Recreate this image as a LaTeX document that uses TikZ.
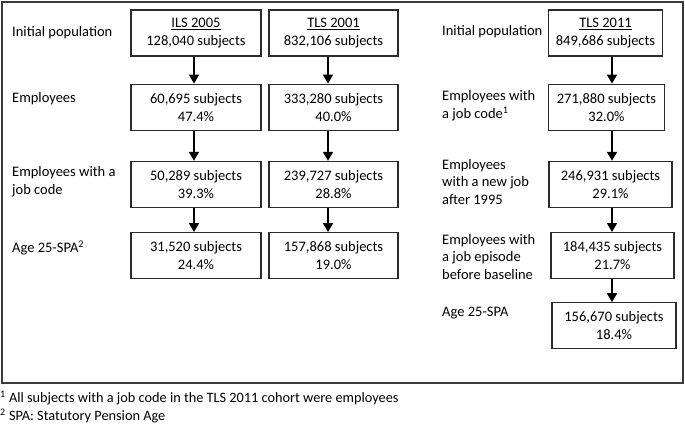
\documentclass[tikz,border=0pt]{standalone}
\usepackage{fontspec}
\setmainfont{Carlito}
\usetikzlibrary{arrows.meta,positioning}
\definecolor{FlowInk}{HTML}{2B2B2B}
\definecolor{FrameInk}{HTML}{3A3A3A}

\begin{document}
\begin{tikzpicture}[
    x=1pt, y=-1pt,
    font=\fontsize{14.5}{17.7}\selectfont,
    cohort/.style={
        rectangle,
        draw=FlowInk,
        line width=1.2pt,
        minimum width=130pt,
        minimum height=46pt,
        align=center,
        inner sep=0pt
    },
    flow/.style={
        -{Triangle[length=9pt,width=10pt]},
        line width=1.8pt,
        draw=black
    },
    row label/.style={
        anchor=west,
        align=left,
        inner sep=0pt
    },
    note/.style={
        anchor=west,
        inner sep=0pt,
        font=\fontsize{14.3}{16}\selectfont
    }
]
    \useasboundingbox (0,0) rectangle (685,423);
    \draw[FrameInk, line width=1.4pt] (2,2) rectangle (683,383);

    % ILS 2005 and TLS 2001
    \node[cohort] (ils1) at (196,33) {\underline{ILS 2005}\\128,040 subjects};
    \node[cohort, below=27pt of ils1] (ils2) {60,695 subjects\\47.4\%};
    \node[cohort, below=30pt of ils2] (ils3) {50,289 subjects\\39.3\%};
    \node[cohort, below=24pt of ils3] (ils4) {31,520 subjects\\24.4\%};

    \node[cohort, minimum width=129pt] (old1) at (333.5,33) {\underline{TLS 2001}\\832,106 subjects};
    \node[cohort, minimum width=129pt, below=27pt of old1] (old2) {333,280 subjects\\40.0\%};
    \node[cohort, minimum width=129pt, below=30pt of old2] (old3) {239,727 subjects\\28.8\%};
    \node[cohort, minimum width=129pt, below=24pt of old3] (old4) {157,868 subjects\\19.0\%};

    \node[row label] (lpop) at (12,33) {Initial population};
    \node[row label] (lemp) at (12,99) {Employees};
    \node[row label] (lcode) at (12,182) {Employees with a\\job code};
    \node[row label] (lage) at (12,248) {Age 25-SPA\textsuperscript{2}};

    % TLS 2011
    \node[cohort, minimum width=114pt] (new1) at (605.5,33) {\underline{TLS 2011}\\849,686 subjects};
    \node[cohort, minimum width=116pt, below=27pt of new1, xshift=1pt] (new2) {271,880 subjects\\32.0\%};
    \node[cohort, minimum width=123pt, below=30pt of new2, xshift=4pt] (new3) {246,931 subjects\\29.1\%};
    \node[cohort, minimum width=123pt, below=24pt of new3, xshift=2pt] (new4) {184,435 subjects\\21.7\%};
    \node[cohort, minimum width=124pt, below=23pt of new4, xshift=1.5pt] (new5) {156,670 subjects\\18.4\%};

    \node[row label] (rpop) at (442,32) {Initial population};
    \node[row label] (rcode) at (442,106) {Employees with\\a job code\textsuperscript{1}};
    \node[row label] (rnew) at (442,182) {Employees\\with a new job\\after 1995};
    \node[row label] (repi) at (442,257) {Employees with\\a job episode\\before baseline};
    \node[row label] (rage) at (442,313) {Age 25-SPA};

    % arrows
    \coordinate (ilsx) at (194,0);
    \coordinate (oldx) at (328,0);
    \coordinate (newx) at (612,0);
    \draw[flow] (ils1.south -| ilsx) -- (ils2.north -| ilsx);
    \draw[flow] (ils2.south -| ilsx) -- (ils3.north -| ilsx);
    \draw[flow] (ils3.south -| ilsx) -- (ils4.north -| ilsx);
    \draw[flow] (old1.south -| oldx) -- (old2.north -| oldx);
    \draw[flow] (old2.south -| oldx) -- (old3.north -| oldx);
    \draw[flow] (old3.south -| oldx) -- (old4.north -| oldx);
    \draw[flow] (new1.south -| newx) -- (new2.north -| newx);
    \draw[flow] (new2.south -| newx) -- (new3.north -| newx);
    \draw[flow] (new3.south -| newx) -- (new4.north -| newx);
    \draw[flow] (new4.south -| newx) -- (new5.north -| newx);

    \node[note] (fn1) at (0,398) {\textsuperscript{1} All subjects with a job code in the TLS 2011 cohort were employees};
    \node[note] (fn2) at (0,416) {\textsuperscript{2} SPA: Statutory Pension Age};
\end{tikzpicture}
\end{document}
